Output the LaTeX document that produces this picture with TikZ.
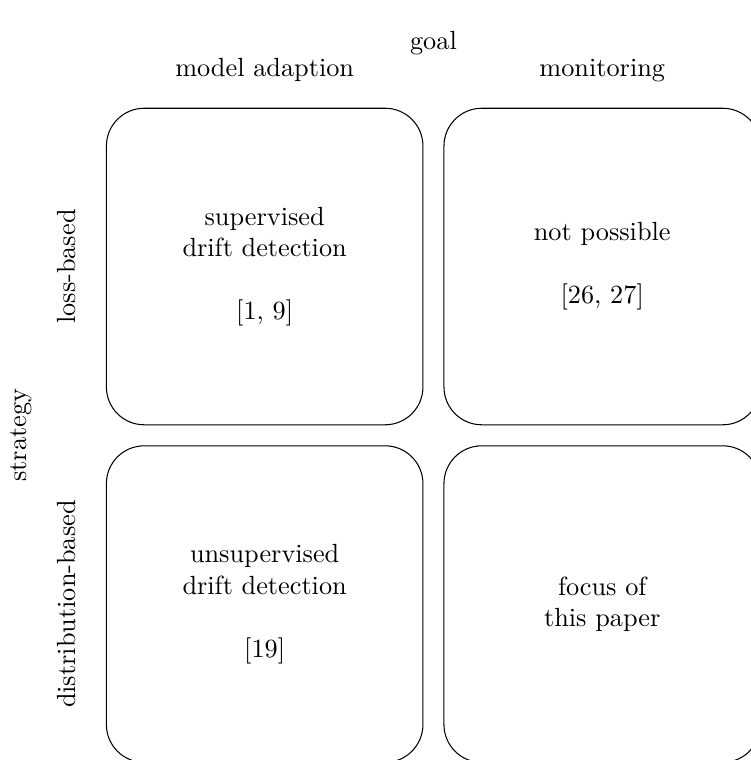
\documentclass[tikz,border=0pt]{standalone}
\usepackage{tikz}
\usetikzlibrary{matrix,positioning,calc}

\tikzset{
  cell/.style={draw, rounded corners=14.4pt, minimum width=120.5pt, minimum height=120.5pt, align=center, inner sep=0pt},
  axis/.style={inner sep=0pt},
  side/.style={inner sep=0pt, rotate=90, anchor=base}
}

\begin{document}
\begin{tikzpicture}
  \matrix (m) [row sep=7.6pt, column sep=7.6pt, inner sep=0pt]
  {
\node (sup) [cell] {supervised\\drift detection\\[12pt]{[1, 9]}}; & \node (np) [cell] {not possible\\[12pt]{[26, 27]}}; \\
\node (unsup) [cell] {unsupervised\\drift detection\\[12pt]{[19]}}; & \node (focus) [cell] {focus of\\this paper}; \\
};
  \node (goal) [axis, above=19.7pt of m] {goal};
  \node (adapt) [axis, above=9.8pt of sup] {model adaption};
  \node (monit) [axis, above=9.8pt of np] {monitoring};
  \node (loss) [side] at ($(sup.west)+(-11.4pt,0)$) {loss-based};
  \node (distr) [side] at ($(unsup.west)+(-11.4pt,0)$) {distribution-based};
  \node (strat) [side] at ($(m.west)+(-30pt,0)$) {strategy};
  \pgfresetboundingbox
  \useasboundingbox ($(sup.north west)+(-40.3pt,41pt)$) rectangle ($(focus.south east)+(-4.2pt,1.1pt)$);
\end{tikzpicture}
\end{document}
